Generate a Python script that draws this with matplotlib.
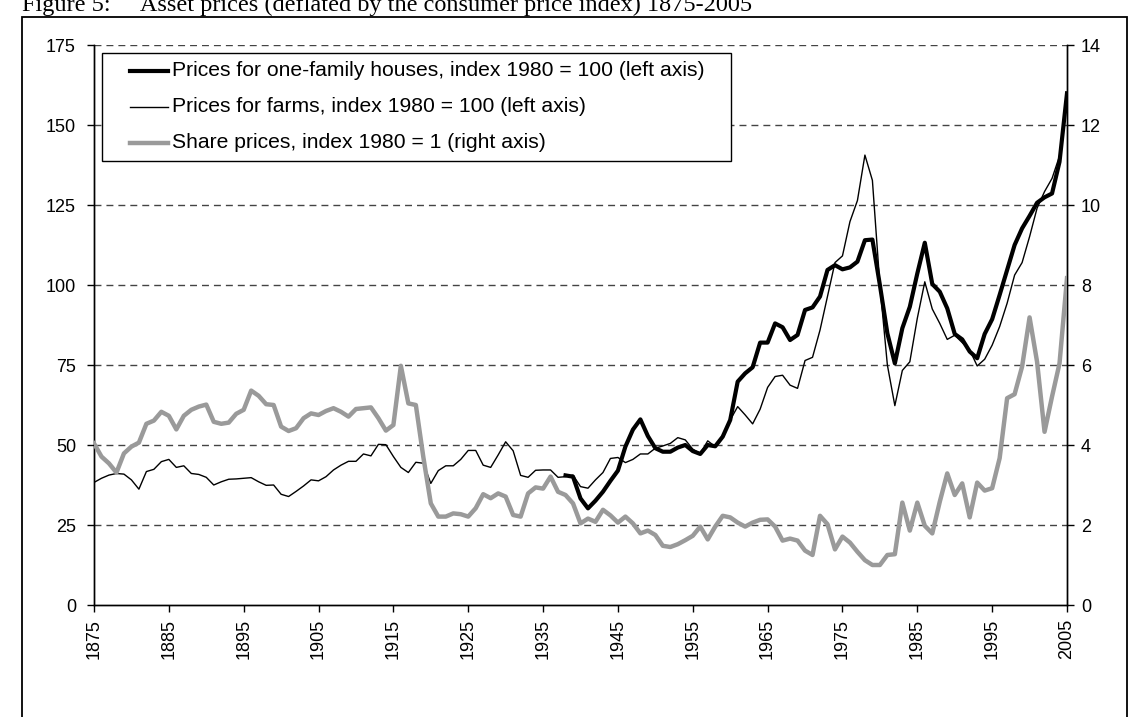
import matplotlib
matplotlib.use("Agg")
import matplotlib.pyplot as plt
from matplotlib.lines import Line2D
from matplotlib.patches import Rectangle

years = list(range(1875, 2006))
house_years = list(range(1938, 2006))

farms = [38.3, 39.6, 40.6, 41.1, 40.9, 39.1, 36.2, 41.7, 42.4, 44.8,
         45.5, 43.0, 43.5, 41.1, 40.8, 39.9, 37.5, 38.5, 39.3, 39.4,
         39.6, 39.8, 38.5, 37.4, 37.5, 34.6, 33.9, 35.5, 37.2, 39.1,
         38.8, 40.1, 42.2, 43.7, 44.9, 44.9, 47.2, 46.6, 50.2, 50.1,
         46.4, 43.0, 41.4, 44.6, 44.3, 38.0, 42.0, 43.5, 43.5, 45.5,
         48.3, 48.3, 43.7, 43.0, 46.9, 51.0, 48.2, 40.5, 39.9, 42.1,
         42.2, 42.2, 39.9, 40.1, 40.6, 37.0, 36.5, 39.1, 41.4, 45.8,
         46.1, 44.5, 45.5, 47.2, 47.2, 49.0, 49.7, 50.5, 52.3, 51.6,
         48.7, 47.3, 51.3, 49.5, 52.6, 57.8, 62.0, 59.4, 56.6, 61.2,
         68.0, 71.4, 71.8, 68.7, 67.7, 76.4, 77.4, 85.9, 96.4, 107.0,
         109.1, 119.8, 126.4, 140.6, 132.7, 100.0, 75.0, 62.3, 73.3, 76.0,
         89.6, 101.0, 92.5, 88.0, 83.0, 84.3, 82.0, 79.7, 74.7, 76.8,
         81.2, 87.0, 94.3, 103.1, 107.0, 115.1, 124.0, 129.2, 133.3, 140.3,
         158.0]

houses = [40.5, 40.1, 33.3, 30.2, 32.6, 35.4, 38.8, 42.0, 49.5, 54.8,
          58.0, 52.8, 49.0, 47.9, 47.9, 49.2, 50.0, 48.1, 47.2, 50.0,
          49.6, 52.6, 57.8, 69.8, 72.4, 74.3, 82.0, 82.0, 88.0, 86.8,
          82.8, 84.4, 92.2, 93.0, 96.4, 104.7, 106.2, 104.9, 105.5, 107.3,
          114.0, 114.2, 100.0, 84.9, 75.5, 86.5, 93.2, 103.6, 113.2, 100.3,
          97.9, 92.7, 84.7, 83.0, 79.2, 77.1, 84.7, 89.3, 96.9, 104.7,
          112.5, 117.7, 121.6, 125.7, 127.4, 128.6, 138.5, 159.9]

shares = [4.04, 3.71, 3.54, 3.31, 3.79, 3.96, 4.06, 4.53, 4.61, 4.83,
          4.73, 4.39, 4.73, 4.88, 4.96, 5.01, 4.58, 4.53, 4.56, 4.78,
          4.88, 5.36, 5.23, 5.02, 5.00, 4.46, 4.35, 4.42, 4.67, 4.79,
          4.75, 4.85, 4.92, 4.83, 4.71, 4.90, 4.92, 4.94, 4.67, 4.36,
          4.50, 5.98, 5.04, 5.00, 3.70, 2.54, 2.21, 2.21, 2.29, 2.27,
          2.21, 2.42, 2.77, 2.67, 2.79, 2.71, 2.25, 2.21, 2.79, 2.94,
          2.91, 3.21, 2.83, 2.75, 2.54, 2.04, 2.16, 2.08, 2.38, 2.24,
          2.06, 2.21, 2.04, 1.79, 1.86, 1.75, 1.48, 1.45, 1.52, 1.62,
          1.73, 1.96, 1.64, 1.96, 2.23, 2.19, 2.06, 1.96, 2.06, 2.13,
          2.14, 1.96, 1.61, 1.66, 1.61, 1.36, 1.25, 2.23, 2.02, 1.39,
          1.71, 1.56, 1.33, 1.12, 1.00, 1.00, 1.25, 1.27, 2.56, 1.86,
          2.56, 1.98, 1.79, 2.58, 3.29, 2.75, 3.04, 2.19, 3.06, 2.86,
          2.92, 3.67, 5.17, 5.27, 5.96, 7.19, 6.08, 4.33, 5.21, 6.04,
          8.17]

left_ticks = [0, 25, 50, 75, 100, 125, 150, 175]
right_ticks = [0, 2, 4, 6, 8, 10, 12, 14]
x_ticks = list(range(1875, 2006, 10))

labels = ["Prices for one-family houses, index 1980 = 100 (left axis)",
          "Prices for farms, index 1980 = 100 (left axis)",
          "Share prices, index 1980 = 1 (right axis)"]
title = "Figure 5:     Asset prices (deflated by the consumer price index) 1875-2005"

plt.rcParams['font.family'] = ['Liberation Sans', 'DejaVu Sans']

W, H = 1130, 717
fig = plt.figure(figsize=(W / 100, H / 100), dpi=100)
fig.patch.set_facecolor('white')


def fx(px):
    return px / W


def fy(py):
    return 1 - py / H


ax = fig.add_axes([fx(94), fy(605), (1067 - 94) / W, (605 - 45) / H])
ax2 = ax.twinx()

# outer frame
fig.patches.append(Rectangle((fx(22), -0.05), (1127 - 22) / W, 1.05 - 17 / H,
                             transform=fig.transFigure, fill=False,
                             edgecolor='black', linewidth=1.3))
fig.text(fx(22), fy(11), title, family='Liberation Serif', fontsize=17.5,
         va='baseline', ha='left')

grid_color = '#444444'
for v in left_ticks[1:]:
    ax.axhline(v, color=grid_color, linewidth=1.0, dashes=(5, 3.6), zorder=1)

ax.plot(years, farms, color='black', linewidth=1.0, zorder=3)
ax.plot(house_years, houses, color='black', linewidth=3.0, zorder=4,
        solid_joinstyle='round')
ax2.plot(years, shares, color='#9a9a9a', linewidth=3.2, zorder=3,
         solid_joinstyle='round')

ax.set_xlim(1875, 2005)
ax.set_ylim(0, 175)
ax2.set_ylim(0, 14)
ax.set_xticks(x_ticks)
ax.set_xticklabels([str(x) for x in x_ticks], rotation=90, fontsize=13)
ax.set_yticks(left_ticks)
ax.set_yticklabels([str(v) for v in left_ticks], fontsize=13)
ax2.set_yticks(right_ticks)
ax2.set_yticklabels([str(v) for v in right_ticks], fontsize=13)

for a in (ax, ax2):
    a.tick_params(direction='out', length=5, width=1, colors='black', pad=5)
    a.spines['top'].set_visible(False)
    for s in ('left', 'right', 'bottom'):
        a.spines[s].set_linewidth(1.0)
ax.tick_params(axis='y', pad=8)

# legend box (drawn on top of everything)
styles = [dict(color='black', linewidth=3.0),
          dict(color='black', linewidth=1.0),
          dict(color='#9a9a9a', linewidth=3.2)]
box = Rectangle((fx(102), fy(161)), (731 - 102) / W, (161 - 53) / H,
                transform=fig.transFigure, facecolor='white',
                edgecolor='black', linewidth=1.0, zorder=10)
fig.patches.append(box)
row_y = [71, 107, 143]
for lab, st, ry in zip(labels, styles, row_y):
    fig.lines.append(Line2D([fx(130), fx(168)], [fy(ry), fy(ry)],
                            transform=fig.transFigure, zorder=11, **st))
    fig.text(fx(172), fy(ry), lab, fontsize=15.2, va='center', ha='left',
             zorder=12)

fig.savefig('out.png', dpi=100)
